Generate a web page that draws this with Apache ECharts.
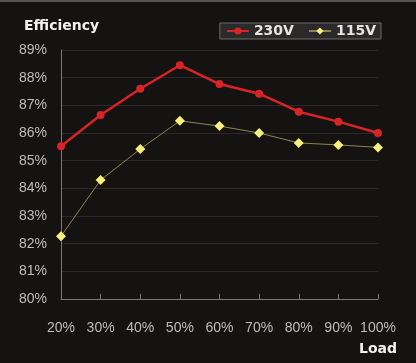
<!DOCTYPE html>
<html><head><meta charset="utf-8">
<style>html,body{margin:0;padding:0;background:#151212;}#c{width:416px;height:363px;}</style>
<script src="https://cdn.jsdelivr.net/npm/echarts@6/dist/echarts.min.js"></script>
</head><body><div id="c"></div>
<script>
const categories = ['20%','30%','40%','50%','60%','70%','80%','90%','100%'];
const v230 = [85.52, 86.65, 87.6, 88.45, 87.77, 87.42, 86.77, 86.41, 86.0];
const v115 = [82.27, 84.3, 85.42, 86.44, 86.25, 86.0, 85.64, 85.57, 85.48];
const yTicks = [80,81,82,83,84,85,86,87,88,89];

const chart = echarts.init(document.getElementById('c'));
chart.setOption({
  backgroundColor: '#151212',
  animation: false,
  title: {text: 'Efficiency', left: 19, top: 14, textStyle: {color: '#f2f2f2', fontFamily: 'DejaVu Sans', fontWeight: 'bold', fontSize: 14}},
  legend: {
    right: 35, top: 23, width: 160, height: 19,
    backgroundColor: '#2b2a2a', borderColor: '#6a6a6a', borderWidth: 1, borderRadius: 0,
    padding: [1, 5, 1, 6], itemGap: 14, itemWidth: 22, itemHeight: 9,
    textStyle: {color: '#e6e6e6', fontFamily: 'DejaVu Sans', fontWeight: 'bold', fontSize: 14},
    data: ['230V', '115V']
  },
  grid: {left: 61, right: 38, top: 50, bottom: 64},
  xAxis: {
    type: 'category', data: categories, boundaryGap: false,
    axisLine: {lineStyle: {color: '#7a7a7a', width: 1}},
    axisTick: {inside: true, length: 5, interval: 0, lineStyle: {color: '#7a7a7a'}},
    axisLabel: {color: '#bdbdbd', fontFamily: 'Liberation Sans', fontSize: 14, margin: 22, interval: 0}
  },
  yAxis: {
    type: 'value', min: yTicks[0], max: yTicks[yTicks.length-1], interval: 1,
    axisLine: {show: true, lineStyle: {color: '#7a7a7a', width: 1}},
    axisTick: {show: false},
    axisLabel: {color: '#bdbdbd', fontFamily: 'Liberation Sans', fontSize: 14, margin: 14, formatter: v => v + '%'},
    splitLine: {lineStyle: {color: '#2c2828', width: 1}}
  },
  series: [
    {name: '230V', type: 'line', data: v230, symbol: 'circle', symbolSize: 8,
     lineStyle: {color: '#d82424', width: 2.5}, itemStyle: {color: '#d82424'}},
    {name: '115V', type: 'line', data: v115, symbol: 'diamond', symbolSize: 10,
     lineStyle: {color: '#8c874f', width: 1}, itemStyle: {color: '#f7f07a'}}
  ],
  graphic: [
    {type: 'rect', shape: {x: 0, y: 0, width: 416, height: 2}, style: {fill: '#555'}},
    {type: 'text', right: 19, top: 342, style: {text: 'Load', fill: '#f2f2f2', font: 'bold 14px "DejaVu Sans"'}}
  ]
});
</script></body></html>
